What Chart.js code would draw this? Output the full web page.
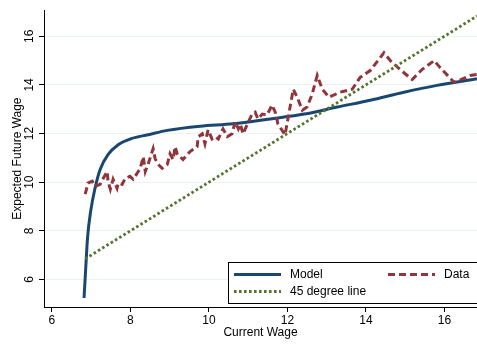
<!DOCTYPE html>
<html>
<head>
<meta charset="utf-8">
<script src="https://cdn.jsdelivr.net/npm/chart.js@4.4.1/dist/chart.umd.min.js"></script>
<style>
  html, body { margin: 0; padding: 0; background: #fff; }
</style>
</head>
<body>
<canvas id="chart" width="477" height="345"></canvas>
<script>
// values
const xTicks = [6, 8, 10, 12, 14, 16];
const yTicks = [6, 8, 10, 12, 14, 16];

const modelX = [6.82, 6.86, 6.91, 6.99, 7.10, 7.23, 7.43, 7.69, 8.02, 8.45, 8.94, 9.78, 10.62, 11.56, 12.43, 13.27, 14.11, 14.97, 15.81, 16.83];
const modelY = [5.24, 6.38, 7.73, 8.82, 9.75, 10.52, 11.13, 11.54, 11.79, 11.95, 12.13, 12.30, 12.40, 12.60, 12.80, 13.09, 13.37, 13.70, 13.98, 14.25];

const dataX = [6.85, 6.92, 7.03, 7.10, 7.23, 7.31, 7.41, 7.43, 7.49, 7.56, 7.66, 7.69, 7.79, 7.87, 7.99, 8.07,
  8.17, 8.25, 8.33, 8.38, 8.45, 8.58, 8.63, 8.71, 8.81, 8.94, 9.01, 9.09, 9.14, 9.19, 9.34, 9.52,
  9.70, 9.73, 9.83, 9.90, 9.98, 10.08, 10.16, 10.24, 10.36, 10.47, 10.59, 10.67, 10.75, 10.80, 10.87, 10.97,
  11.10, 11.18, 11.25, 11.36, 11.48, 11.61, 11.69, 11.76, 11.94, 12.15, 12.25, 12.38, 12.50, 12.63, 12.76, 12.89,
  13.06, 13.34, 13.65, 13.85, 14.11, 14.46, 14.62, 14.87, 15.18, 15.43, 15.74, 15.89, 16.25, 16.66, 16.83];
const dataY = [9.51, 9.96, 10.04, 9.83, 9.91, 10.16, 10.44, 10.04, 9.71, 10.12, 9.75, 9.96, 9.91, 10.16, 10.24, 10.12,
  10.36, 10.57, 11.05, 10.44, 10.73, 11.38, 10.97, 10.73, 10.57, 10.73, 11.17, 10.93, 11.46, 11.17, 10.93, 11.26,
  11.46, 11.87, 11.99, 11.58, 12.15, 11.78, 11.87, 11.78, 12.19, 11.87, 11.99, 12.48, 12.19, 12.39, 11.99, 12.35,
  12.80, 12.88, 12.60, 12.80, 12.76, 13.17, 12.88, 12.39, 11.95, 13.82, 13.49, 12.96, 13.09, 13.61, 14.39, 13.82,
  13.49, 13.70, 13.82, 14.30, 14.59, 15.32, 15.00, 14.63, 14.22, 14.63, 15.00, 14.71, 14.10, 14.39, 14.43];

const lineX = [6.85, 16.83];
const lineY = [6.85, 16.83];

const legendLabels = ['Model', 'Data', '45 degree line'];

const NAVY = '#1a476f', MAROON = '#90353b', GREEN = '#55752f';
const FONT = "'Liberation Sans', Arial, sans-serif";

Chart.defaults.color = '#000';
Chart.defaults.font.family = FONT;
Chart.defaults.font.size = 12;

const pts = (xs, ys) => xs.map((x, i) => ({ x, y: ys[i] }));

// boxed two-column legend in the lower right of the plot
const legendBox = {
  id: 'legendBox',
  afterDraw(chart) {
    const { ctx, chartArea: a } = chart;
    const left = a.right - 249, top = a.bottom - 45, h = 41;
    const r1 = top + 12.5, r2 = top + 29.5;
    ctx.save();
    ctx.fillStyle = '#fff';
    ctx.fillRect(left, top, a.right - left + 2, h);
    ctx.strokeStyle = '#000';
    ctx.lineWidth = 1;
    ctx.strokeRect(left + 0.5, top + 0.5, a.right - left + 2, h);

    const sample = (x0, y, color, dash, w) => {
      ctx.beginPath();
      ctx.strokeStyle = color;
      ctx.lineWidth = w;
      ctx.setLineDash(dash);
      ctx.moveTo(x0, y);
      ctx.lineTo(x0 + 47, y);
      ctx.stroke();
    };
    sample(left + 6, r1, NAVY, [], 3);
    sample(left + 160, r1, MAROON, [7, 4], 3);
    sample(left + 6, r2, GREEN, [2.6, 2.4], 2.8);
    ctx.setLineDash([]);

    ctx.fillStyle = '#000';
    ctx.font = '12px ' + FONT;
    ctx.textBaseline = 'middle';
    ctx.fillText(legendLabels[0], left + 62, r1);
    ctx.fillText(legendLabels[1], left + 216, r1);
    ctx.fillText(legendLabels[2], left + 62, r2);
    ctx.restore();
  }
};

new Chart(document.getElementById('chart'), {
  type: 'line',
  data: {
    datasets: [
      { label: legendLabels[0], data: pts(modelX, modelY), borderColor: NAVY, borderWidth: 3,
        cubicInterpolationMode: 'monotone', pointRadius: 0, order: 3 },
      { label: legendLabels[1], data: pts(dataX, dataY), borderColor: MAROON, borderWidth: 3,
        borderDash: [7, 4], pointRadius: 0, order: 2 },
      { label: legendLabels[2], data: pts(lineX, lineY), borderColor: GREEN, borderWidth: 2.8,
        borderDash: [2.6, 2.4], pointRadius: 0, order: 1 },
    ]
  },
  options: {
    responsive: false,
    animation: false,
    devicePixelRatio: 1,
    layout: { padding: { top: 7, right: 0, left: 0, bottom: 0 } },
    plugins: { legend: { display: false }, tooltip: { enabled: false } },
    scales: {
      x: {
        type: 'linear', min: 5.8, max: 16.83,
        afterBuildTicks: s => { s.ticks = xTicks.map(v => ({ value: v })); },
        afterFit: s => { s.height = 38; },
        grid: { drawOnChartArea: false, tickLength: 5, tickColor: '#000' },
        border: { color: '#000', width: 1 },
        ticks: { padding: 1, maxRotation: 0 },
        title: { display: true, text: 'Current Wage', padding: { top: 0, bottom: 5 } }
      },
      y: {
        type: 'linear', min: 4.87, max: 17.07,
        afterBuildTicks: s => { s.ticks = yTicks.map(v => ({ value: v })); },
        afterFit: s => { s.width = 44; },
        grid: { color: '#eaf2f3', tickLength: 5, tickColor: '#000' },
        border: { color: '#000', width: 1 },
        ticks: { minRotation: 90, maxRotation: 90, crossAlign: 'center', padding: 3 },
        title: { display: true, text: 'Expected Future Wage', padding: { top: 10, bottom: 0 } }
      }
    }
  },
  plugins: [legendBox]
});
</script>
</body>
</html>
